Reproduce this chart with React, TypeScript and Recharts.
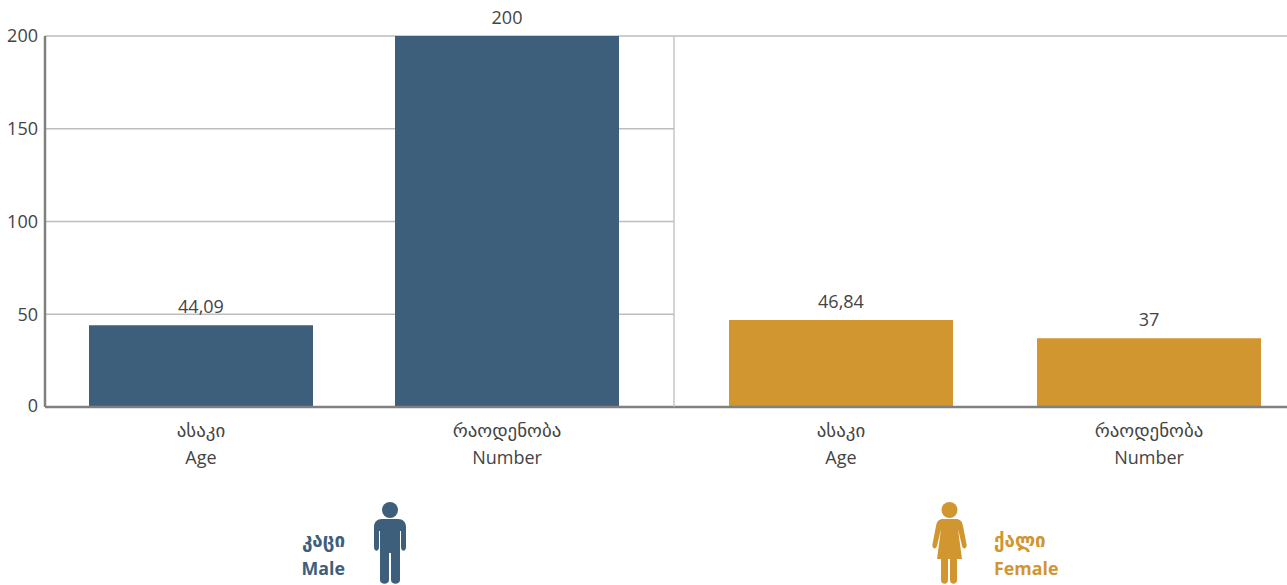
import { BarChart, Bar, XAxis, YAxis, CartesianGrid, LabelList } from "recharts";

const categoriesKa = ["ასაკი", "რაოდენობა"];
const categoriesEn = ["Age", "Number"];
const maleValues = [44.09, 200];
const femaleValues = [46.84, 37];
const yTicks = [0, 50, 100, 150, 200];

const BLUE = "#3d5f7b";
const GOLD = "#d1962f";
const TEXT = "#444444";
const FONT = '"Open Sans", "Noto Sans", "DejaVu Sans", sans-serif';

const maleData = categoriesKa.map((ka, i) => ({ ka, en: categoriesEn[i], value: maleValues[i] }));
const femaleData = categoriesKa.map((ka, i) => ({ ka, en: categoriesEn[i], value: femaleValues[i] }));

const fmt = (v: number) => String(v).replace(".", ",");

function TwoLineTick({ x, y, payload, index, rows }: any) {
  const row = rows[index];
  return (
    <text x={x} textAnchor="middle" fontFamily={FONT} fontSize={18} fill={TEXT}>
      <tspan x={x} y={y + 22} fontSize={18.9}>{payload.value}</tspan>
      <tspan x={x} y={y + 49}>{row.en}</tspan>
    </text>
  );
}

function YTick({ x, y, payload }: any) {
  // the zero label sits a little higher than its gridline in the original
  const dy = payload.value === 0 ? -1 : 0;
  return (
    <text x={x + 1} y={y + dy} dy="0.355em" textAnchor="end" fontFamily={FONT} fontSize={18} fill={TEXT}>
      {payload.value}
    </text>
  );
}

function ManIcon() {
  return (
    <svg width={34} height={84} viewBox="0 0 34 84" style={{ position: "absolute", left: 373, top: 501 }}>
      <circle cx={17} cy={9} r={8} fill={BLUE} />
      <path
        fill={BLUE}
        d="M9 18 H25 C30 18 33 21 33 26 V46 C33 51 28 51 28 46 V30 H27 V79 C27 84 18 84 18 79 V52 H16 V79 C16 84 7 84 7 79 V30 H6 V46 C6 51 1 51 1 46 V26 C1 21 4 18 9 18 Z"
      />
    </svg>
  );
}

function WomanIcon() {
  return (
    <svg width={36} height={84} viewBox="0 0 36 84" style={{ position: "absolute", left: 932, top: 501 }}>
      <circle cx={17.5} cy={9} r={8} fill={GOLD} />
      <path
        fill={GOLD}
        d="M11 18 H24 C28 18 30 20 31 25 L34.5 43 C35.5 48 31 49 30 45 L26 28 L30 58 H25 V79 C25 84 18 84 18 79 V58 H16 V79 C16 84 9 84 9 79 V58 H5 L9 28 L5 45 C4 49 -0.5 48 0.5 43 L4 25 C5 20 7 18 11 18 Z"
      />
    </svg>
  );
}

function Legend({ left, color, ka, en, align }: any) {
  return (
    <div
      style={{
        position: "absolute",
        left,
        top: 526,
        width: 80,
        textAlign: align,
        fontFamily: FONT,
        fontSize: 18,
        fontWeight: 700,
        lineHeight: "28px",
        color,
      }}
    >
      <div style={{ fontSize: 18.8 }}>{ka}</div>
      <div style={{ fontSize: 17.8 }}>{en}</div>
    </div>
  );
}

export default function App() {
  return (
    <div style={{ position: "absolute", left: 0, top: 0, width: 1287, height: 585, overflow: "hidden", background: "#fff" }}>
      <div style={{ position: "absolute", left: 0, top: 0 }}>
        <BarChart width={674} height={585} data={maleData} margin={{ top: 36, right: 0, bottom: 118, left: 0 }}>
          <CartesianGrid horizontal vertical={false} stroke="#bdbdbd" strokeWidth={1.3} />
          <XAxis
            dataKey="ka"
            height={60}
            padding={{ left: 3, right: 14 }}
            axisLine={{ stroke: "#808080", strokeWidth: 2.5 }}
            tickLine={false}
            interval={0}
            tick={<TwoLineTick rows={maleData} />}
          />
          <YAxis
            width={45}
            domain={[0, 200]}
            ticks={yTicks}
            axisLine={{ stroke: "#808080", strokeWidth: 2.5 }}
            tickLine={false}
            tick={<YTick />}
          />
          <Bar dataKey="value" fill={BLUE} barSize={224} isAnimationActive={false}>
            <LabelList dataKey="value" position="top" offset={12} formatter={fmt} fontSize={18} fill={TEXT} fontFamily={FONT} />
          </Bar>
        </BarChart>
      </div>
      <div style={{ position: "absolute", left: 673, top: 0 }}>
        <BarChart width={614} height={585} data={femaleData} margin={{ top: 36, right: 0, bottom: 118, left: 0 }}>
          <CartesianGrid horizontal vertical={false} stroke="#bdbdbd" strokeWidth={1.3} />
          <XAxis
            dataKey="ka"
            height={60}
            padding={{ left: 13, right: -16 }}
            axisLine={{ stroke: "#808080", strokeWidth: 2.5 }}
            tickLine={false}
            interval={0}
            tick={<TwoLineTick rows={femaleData} />}
          />
          <YAxis
            width={1}
            domain={[0, 200]}
            ticks={yTicks}
            axisLine={{ stroke: "#bdbdbd", strokeWidth: 1.3 }}
            tickLine={false}
            tick={false}
          />
          <Bar dataKey="value" fill={GOLD} barSize={224} isAnimationActive={false}>
            <LabelList dataKey="value" position="top" offset={12} formatter={fmt} fontSize={18} fill={TEXT} fontFamily={FONT} />
          </Bar>
        </BarChart>
      </div>
      <Legend left={265} color={BLUE} ka="კაცი" en="Male" align="right" />
      <ManIcon />
      <WomanIcon />
      <Legend left={994} color={GOLD} ka="ქალი" en="Female" align="left" />
    </div>
  );
}
